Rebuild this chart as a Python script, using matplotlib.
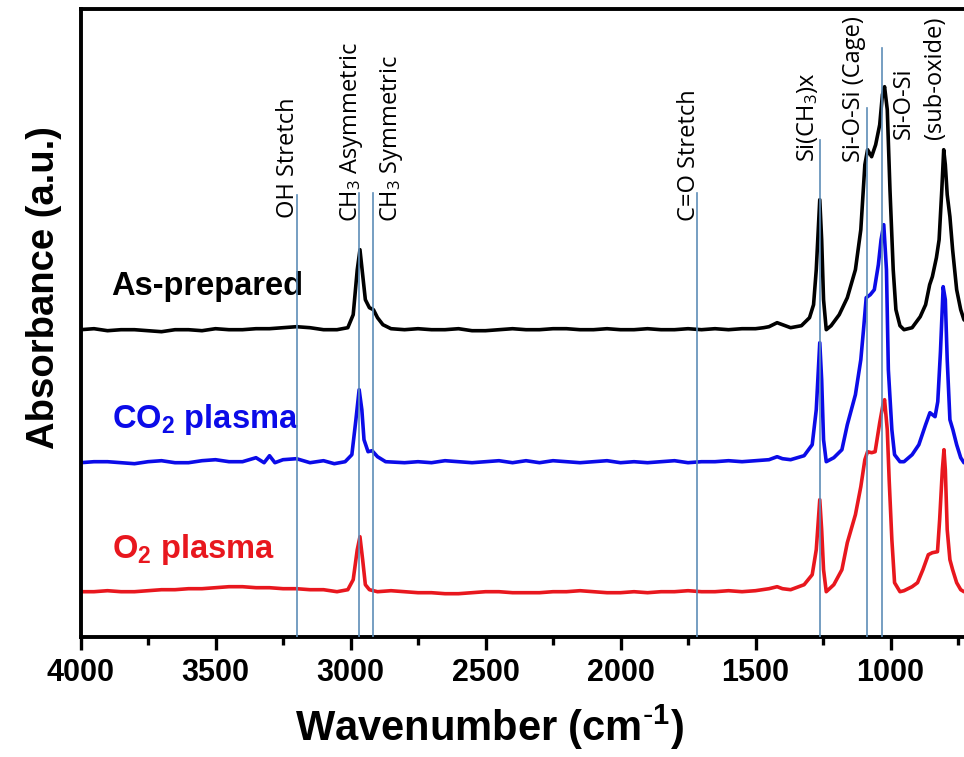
import numpy as np
import matplotlib
matplotlib.use('Agg')
import matplotlib.pyplot as plt
from matplotlib.ticker import MultipleLocator
import matplotlib.transforms as mtransforms

plt.rcParams['mathtext.default'] = 'regular'

# FTIR spectra (absorbance relative to each baseline)
black_wn = [4000, 3950, 3900, 3850, 3800, 3750, 3700, 3650, 3600, 3550, 3500, 3450, 3400, 3350, 3300,
            3250, 3200, 3150, 3100, 3050, 3010, 2990, 2975, 2965, 2955, 2945, 2930, 2915, 2900, 2880,
            2850, 2800, 2750, 2700, 2650, 2600, 2550, 2500, 2450, 2400, 2350, 2300, 2250, 2200, 2150,
            2100, 2050, 2000, 1950, 1900, 1850, 1800, 1750, 1700, 1650, 1600, 1550, 1500, 1470, 1450,
            1420, 1400, 1370, 1330, 1300, 1285, 1275, 1262, 1255, 1248, 1238, 1220, 1190, 1160, 1130,
            1110, 1095, 1085, 1070, 1055, 1040, 1030, 1022, 1012, 1002, 990, 980, 965, 950, 920,
            890, 870, 855, 845, 830, 820, 810, 803, 797, 790, 780, 770, 755, 740, 728, 705]
black_abs = [-0.02, -0.01, -0.03, -0.02, -0.02, -0.03, -0.04, -0.02, -0.02, -0.03, -0.01, -0.02, -0.02, -0.01, -0.01,
             0.00, 0.01, 0.00, -0.02, -0.02, 0.00, 0.13, 0.58, 0.78, 0.53, 0.28, 0.20, 0.18, 0.10, 0.03,
             -0.01, -0.02, -0.01, -0.02, -0.02, -0.01, -0.03, -0.03, -0.02, -0.01, -0.02, -0.02, -0.01, -0.01, -0.02,
             -0.02, -0.01, -0.02, -0.02, -0.01, -0.02, -0.02, -0.01, -0.02, -0.01, -0.02, -0.01, -0.01, 0.00, 0.01,
             0.05, 0.03, 0.00, 0.02, 0.10, 0.23, 0.58, 1.28, 0.88, 0.28, -0.02, 0.02, 0.13, 0.30, 0.58,
             0.98, 1.63, 1.78, 1.71, 1.83, 2.03, 2.33, 2.41, 2.18, 1.38, 0.58, 0.18, 0.02, -0.02, 0.00,
             0.11, 0.23, 0.43, 0.51, 0.70, 0.88, 1.38, 1.78, 1.63, 1.33, 1.11, 0.78, 0.38, 0.18, 0.08, 0.03]

blue_wn = [4000, 3950, 3900, 3850, 3800, 3750, 3700, 3650, 3600, 3550, 3500, 3450, 3400, 3350, 3320,
           3300, 3280, 3250, 3200, 3150, 3100, 3060, 3020, 2995, 2980, 2968, 2958, 2950, 2935, 2920,
           2900, 2870, 2800, 2750, 2700, 2650, 2600, 2550, 2500, 2450, 2400, 2350, 2300, 2250, 2200,
           2150, 2100, 2050, 2000, 1950, 1900, 1850, 1800, 1750, 1700, 1650, 1600, 1550, 1500, 1450,
           1420, 1400, 1370, 1320, 1290, 1275, 1262, 1255, 1248, 1238, 1210, 1180, 1160, 1130, 1110,
           1100, 1090, 1075, 1060, 1045, 1035, 1025, 1015, 1008, 995, 985, 965, 950, 920, 895,
           870, 854, 835, 825, 815, 805, 797, 790, 780, 769, 755, 740, 728, 705]
blue_abs = [-0.01, 0.00, 0.00, -0.01, -0.02, 0.00, 0.01, -0.01, -0.01, 0.01, 0.02, 0.00, 0.00, 0.04, -0.01,
            0.06, -0.01, 0.02, 0.03, -0.01, 0.01, -0.02, 0.00, 0.07, 0.42, 0.72, 0.52, 0.22, 0.10, 0.11,
            0.05, 0.00, -0.01, 0.00, -0.01, 0.01, 0.00, -0.01, 0.00, 0.01, -0.01, 0.01, -0.01, 0.01, 0.00,
            -0.01, 0.00, 0.01, -0.01, 0.00, -0.01, 0.00, 0.01, -0.01, 0.00, 0.00, 0.01, 0.00, 0.01, 0.02,
            0.05, 0.03, 0.02, 0.06, 0.17, 0.52, 1.19, 0.82, 0.22, 0.00, 0.04, 0.12, 0.37, 0.67, 1.02,
            1.32, 1.64, 1.67, 1.72, 1.97, 2.22, 2.37, 1.92, 0.92, 0.32, 0.07, 0.00, 0.00, 0.07, 0.17,
            0.37, 0.49, 0.45, 0.60, 1.10, 1.75, 1.62, 1.02, 0.42, 0.32, 0.17, 0.04, -0.01, -0.02]

red_wn = [4000, 3950, 3900, 3850, 3800, 3750, 3700, 3650, 3600, 3550, 3500, 3450, 3400, 3350, 3300,
          3250, 3200, 3150, 3100, 3050, 3010, 2990, 2975, 2965, 2955, 2945, 2930, 2900, 2850, 2800,
          2750, 2700, 2650, 2600, 2550, 2500, 2450, 2400, 2350, 2300, 2250, 2200, 2150, 2100, 2050,
          2000, 1950, 1900, 1850, 1800, 1750, 1700, 1650, 1600, 1550, 1500, 1450, 1420, 1400, 1370,
          1320, 1290, 1275, 1262, 1255, 1248, 1238, 1210, 1180, 1160, 1130, 1110, 1095, 1085, 1070,
          1057, 1040, 1028, 1022, 1012, 1005, 995, 985, 965, 950, 920, 900, 880, 860, 845,
          826, 818, 808, 802, 797, 790, 780, 770, 755, 740, 728, 705]
red_abs = [0.00, 0.00, 0.01, 0.00, 0.00, 0.01, 0.02, 0.02, 0.03, 0.03, 0.04, 0.05, 0.05, 0.04, 0.04,
           0.03, 0.03, 0.02, 0.02, 0.00, 0.02, 0.12, 0.42, 0.55, 0.32, 0.07, 0.02, 0.00, 0.01, 0.00,
           -0.01, -0.01, -0.02, -0.02, -0.01, 0.00, 0.00, -0.01, -0.01, -0.01, 0.00, 0.00, 0.01, 0.00, -0.01,
           -0.01, 0.00, -0.01, 0.00, 0.00, 0.01, 0.00, 0.00, 0.01, 0.00, 0.01, 0.03, 0.05, 0.03, 0.02,
           0.07, 0.17, 0.42, 0.92, 0.62, 0.22, 0.00, 0.07, 0.22, 0.49, 0.77, 1.05, 1.32, 1.40, 1.39,
           1.40, 1.69, 1.87, 1.92, 1.62, 1.12, 0.52, 0.09, 0.00, 0.01, 0.05, 0.09, 0.22, 0.37, 0.39,
           0.40, 0.72, 1.22, 1.42, 1.22, 0.62, 0.32, 0.22, 0.09, 0.02, 0.00, 0.00]

samples = ['As-prepared', 'CO$_2$ plasma', 'O$_2$ plasma']
offsets = [3.09, 1.75, 0.45]
colors = ['black', '#0b0be8', '#e8171e']

# band assignments
band_wn = [3200, 2967, 2916, 1716, 1261, 1088, 1033]
band_top = [0.704, 0.707, 0.707, 0.707, 0.791, 0.842, 0.938]
band_names = ['OH Stretch', 'CH$_3$ Asymmetric', 'CH$_3$ Symmetric', 'C=O Stretch',
              'Si(CH$_3$)x', 'Si-O-Si (Cage)', 'Si-O-Si', '(sub-oxide)']
name_x = [3209, 2975, 2826, 1724, 1283, 1113, 928, 813]
name_y = [0.667, 0.660, 0.660, 0.663, 0.756, 0.756, 0.793, 0.793]

fig = plt.figure(figsize=(9.64, 7.57), dpi=100)
ax = fig.add_axes([80.5 / 964, 120.3 / 757, 889.5 / 964, 627.7 / 757])

spectra = [(black_wn, black_abs), (blue_wn, blue_abs), (red_wn, red_abs)]
for (wn, a), off, c in zip(spectra, offsets, colors):
    ax.plot(wn, np.array(a) + off, color=c, lw=2.6, solid_joinstyle='round')

for w, top in zip(band_wn, band_top):
    ax.axvline(w, ymin=0, ymax=top, color='#5d8db8', lw=1.2, zorder=5)

trans = mtransforms.blended_transform_factory(ax.transData, ax.transAxes)
for name, x, y in zip(band_names, name_x, name_y):
    ax.text(x, y, name, transform=trans, rotation=90, rotation_mode='anchor',
            ha='left', va='baseline', fontsize=17, family='Open Sans', color='black')

# sample labels
label_x = 3885
label_y = [3.42, 2.09, 0.79]
for s, y, c in zip(samples, label_y, colors):
    ax.text(label_x, y, s, color=c, fontsize=23.5, fontweight='bold', family='Liberation Sans',
            ha='left', va='baseline')

ax.set_xlim(4000, 705.6)
ax.set_ylim(0, 6.277)
ax.xaxis.set_major_locator(MultipleLocator(500))
ax.xaxis.set_minor_locator(MultipleLocator(250))
ax.set_yticks([])
ax.spines['right'].set_visible(False)
for sp in ['left', 'bottom', 'top']:
    ax.spines[sp].set_linewidth(2.8)
ax.tick_params(axis='x', which='major', length=9, width=2.4, pad=6, direction='out')
ax.tick_params(axis='x', which='minor', length=5.5, width=2.4, direction='out')
for lab in ax.get_xticklabels():
    lab.set_fontsize(22)
    lab.set_fontweight('bold')
    lab.set_family('Liberation Sans')

ax.set_xlabel('Wavenumber (cm$^{\\text{-}1}$)', fontsize=30, fontweight='bold', family='Liberation Sans')
ax.xaxis.set_label_coords(0.460, -0.105)
ax.xaxis.label.set_va('top')
ax.set_ylabel('Absorbance (a.u.)', fontsize=27.5, fontweight='bold', family='Liberation Sans')
ax.yaxis.set_label_coords(-0.021, 0.557)

fig.savefig('out.png', dpi=100)
